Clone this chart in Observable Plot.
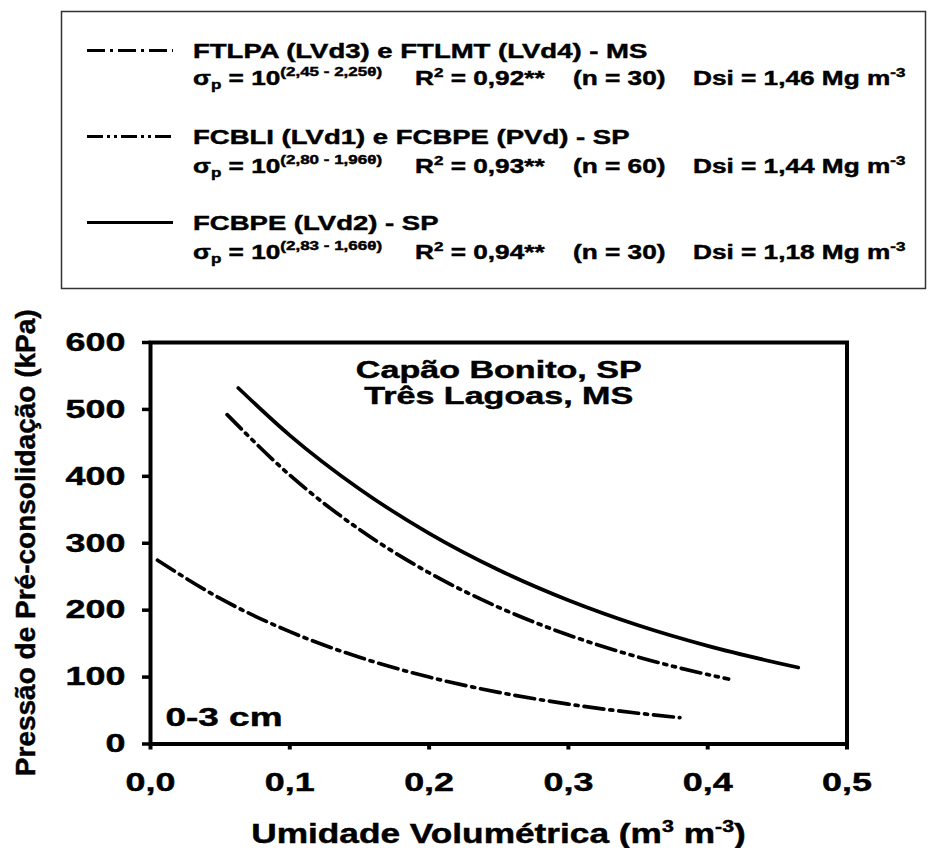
<!DOCTYPE html>
<html>
<head>
<meta charset="utf-8">
<script src="https://cdn.jsdelivr.net/npm/d3@7"></script>
<script src="https://cdn.jsdelivr.net/npm/@observablehq/plot@0.6"></script>
<style>
  html, body { margin: 0; padding: 0; background: #fff; }
  body { width: 928px; height: 848px; position: relative; overflow: hidden;
         font-family: "Liberation Sans", Arial, sans-serif; font-weight: bold; color: #000; }
  #legend { position: absolute; left: 0; top: 0; }
  #chart { position: absolute; left: 0; top: 296px; }
  svg text { stroke: #000; stroke-width: 0.45px; }
</style>
</head>
<body>
<div id="legend"></div>
<div id="chart"></div>
<script>
// ---------- data ----------
const seriesNames = [
  "FTLPA (LVd3) e FTLMT (LVd4) - MS",
  "FCBLI (LVd1) e FCBPE (PVd) - SP",
  "FCBPE (LVd2) - SP"
];
const coefA = ["2,45", "2,80", "2,83"];
const coefB = ["2,25", "1,96", "1,66"];
const r2Values = ["0,92", "0,93", "0,94"];
const nValues = ["30", "60", "30"];
const dsiValues = ["1,46", "1,44", "1,18"];

// θ (m3 m-3) and σp (kPa) along each curve
const thetaA = [0.005, 0.05, 0.10, 0.15, 0.20, 0.25, 0.30, 0.35, 0.38];
const sigmaA = [274.7, 217.5, 167.9, 129.6, 100.0, 77.2, 59.6, 46.0, 39.4];
const thetaB = [0.055, 0.10, 0.15, 0.20, 0.25, 0.30, 0.35, 0.40, 0.415];
const sigmaB = [492.2, 401.8, 320.6, 255.9, 204.2, 162.9, 130.0, 103.8, 97.0];
const thetaC = [0.063, 0.10, 0.15, 0.20, 0.25, 0.30, 0.35, 0.40, 0.465];
const sigmaC = [532.0, 461.3, 381.1, 314.8, 260.0, 214.8, 177.4, 146.6, 114.3];

const xTicks = [0, 0.1, 0.2, 0.3, 0.4, 0.5];
const yTicks = [0, 100, 200, 300, 400, 500, 600];

const xTitle = "Umidade Volumétrica";
const yTitle = "Pressão de Pré-consolidação (kPa)";
const siteLines = ["Capão Bonito, SP", "Três Lagoas, MS"];
const depthLabel = "0-3 cm";

// ---------- styles ----------
const FONT = '"Liberation Sans", Arial, sans-serif';
const dashStyles = ["20,6,3,6", "20,6,3,6,3,6", null];
const legendDash = ["18,5,3,5", "16,4,3,4,3,4", null];

const rows = [];
[[thetaA, sigmaA], [thetaB, sigmaB], [thetaC, sigmaC]].forEach(([t, s], i) => {
  t.forEach((v, j) => rows.push({series: seriesNames[i], theta: v, sigma: s[j]}));
});

// ---------- legend (above the chart) ----------
const lg = d3.select("#legend").append("svg")
  .attr("width", 928).attr("height", 296)
  .attr("font-family", FONT).attr("font-weight", "bold");
lg.append("rect").attr("x", 61.5).attr("y", 11.5).attr("width", 864).attr("height", 277)
  .attr("fill", "none").attr("stroke", "#333").attr("stroke-width", 1.5);

const nameBase = [58, 144, 230];
const eqBase = [85, 173, 259];
const SX = 1.31;
seriesNames.forEach((name, i) => {
  const y1 = nameBase[i], y2 = eqBase[i];
  const ln = lg.append("line").attr("x1", 87).attr("x2", 173)
    .attr("y1", y1 - 7.5).attr("y2", y1 - 7.5)
    .attr("stroke", "#000").attr("stroke-width", 3);
  if (legendDash[i]) ln.attr("stroke-dasharray", legendDash[i]);

  lg.append("g").attr("transform", `translate(193,${y1}) scale(${SX},1)`)
    .append("text").attr("font-size", 21).text(name);

  // σp = 10^(a - bθ)
  const t1 = lg.append("g").attr("transform", `translate(193,${y2}) scale(${SX},1)`)
    .append("text").attr("font-size", 20);
  t1.append("tspan").text("σ");
  t1.append("tspan").attr("font-size", 13).attr("dy", 4).text("p");
  t1.append("tspan").attr("dy", -4).text(" = 10");
  t1.append("tspan").attr("font-size", 13).attr("dy", -9).text(`(${coefA[i]} - ${coefB[i]}θ)`);

  const t2 = lg.append("g").attr("transform", `translate(415,${y2}) scale(${SX},1)`)
    .append("text").attr("font-size", 20);
  t2.append("tspan").text("R");
  t2.append("tspan").attr("font-size", 13).attr("dy", -8).text("2");
  t2.append("tspan").attr("dy", 8).text(` = ${r2Values[i]}**`);

  lg.append("g").attr("transform", `translate(573,${y2}) scale(${SX},1)`)
    .append("text").attr("font-size", 20).text(`(n = ${nValues[i]})`);

  const t4 = lg.append("g").attr("transform", `translate(693,${y2}) scale(${SX},1)`)
    .append("text").attr("font-size", 20);
  t4.append("tspan").text(`Dsi = ${dsiValues[i]} Mg m`);
  t4.append("tspan").attr("font-size", 13).attr("dy", -8).text("-3");
});

// ---------- chart ----------
const H = 552;
const line = (i) => Plot.line(rows.filter(d => d.series === seriesNames[i]), {
  x: "theta", y: "sigma", stroke: "#000", strokeWidth: 3.7,
  strokeDasharray: dashStyles[i] || undefined, curve: "monotone-x"
});

const chart = Plot.plot({
  width: 928,
  height: H,
  marginLeft: 150,
  marginRight: 81.5,
  marginTop: 46,
  marginBottom: 104.5,
  style: {fontFamily: FONT, fontWeight: "bold", fontSize: "26px", color: "#000", background: "#fff", overflow: "visible"},
  x: {domain: [0, 0.5]},
  y: {domain: [0, 600]},
  marks: [
    Plot.axisX({ticks: xTicks, tickFormat: d => d.toFixed(1).replace(".", ","), tickSize: 6, tickPadding: 23,
      strokeWidth: 4, fontSize: 26, fontWeight: "bold", label: null}),
    Plot.axisY({ticks: yTicks, tickFormat: d => String(d), tickSize: 8, tickPadding: 17,
      strokeWidth: 3.5, fontSize: 26, fontWeight: "bold", label: null}),
    Plot.frame({stroke: "#000", strokeWidth: 4}),
    line(0), line(1), line(2),
    Plot.text([siteLines[0]], {text: d => d, frameAnchor: "top", lineAnchor: "bottom", dy: 35,
      fontSize: 24, fontWeight: "bold"}),
    Plot.text([siteLines[1]], {text: d => d, frameAnchor: "top", lineAnchor: "bottom", dy: 61,
      fontSize: 24, fontWeight: "bold"}),
    Plot.text([depthLabel], {text: d => d, frameAnchor: "bottom-left", textAnchor: "start", lineAnchor: "bottom",
      dx: 15, dy: -18.5, fontSize: 26, fontWeight: "bold"})
  ]
});
document.getElementById("chart").appendChild(chart);

// stretch horizontal texts to match the wide lettering of the reference
function stretch(nodes, k) {
  nodes.forEach(n => {
    const L = n.getComputedTextLength();
    n.setAttribute("textLength", (L * k).toFixed(1));
    n.setAttribute("lengthAdjust", "spacingAndGlyphs");
  });
}
stretch(chart.querySelectorAll('[aria-label="x-axis tick label"] text'), 1.38);
stretch(chart.querySelectorAll('[aria-label="y-axis tick label"] text'), 1.38);
stretch(chart.querySelectorAll('[aria-label="text"] text'), 1.42);

// axis titles
const svg = d3.select(chart);
svg.append("text")
  .attr("transform", `translate(35,${(342 + 743.5) / 2 - 296}) rotate(-90)`)
  .attr("text-anchor", "middle").attr("font-size", 28).attr("font-weight", "bold")
  .attr("font-family", FONT).attr("fill", "#000")
  .text(yTitle);

const xt = svg.append("g").attr("transform", `translate(498.5,${843 - 296}) scale(1.26,1)`)
  .append("text").attr("text-anchor", "middle").attr("font-size", 28).attr("font-weight", "bold")
  .attr("font-family", FONT).attr("fill", "#000");
xt.append("tspan").text(xTitle + " (m");
xt.append("tspan").attr("font-size", 17).attr("dy", -11).text("3");
xt.append("tspan").attr("dy", 11).text(" m");
xt.append("tspan").attr("font-size", 17).attr("dy", -11).text("-3");
xt.append("tspan").attr("dy", 11).text(")");
</script>
</body>
</html>
